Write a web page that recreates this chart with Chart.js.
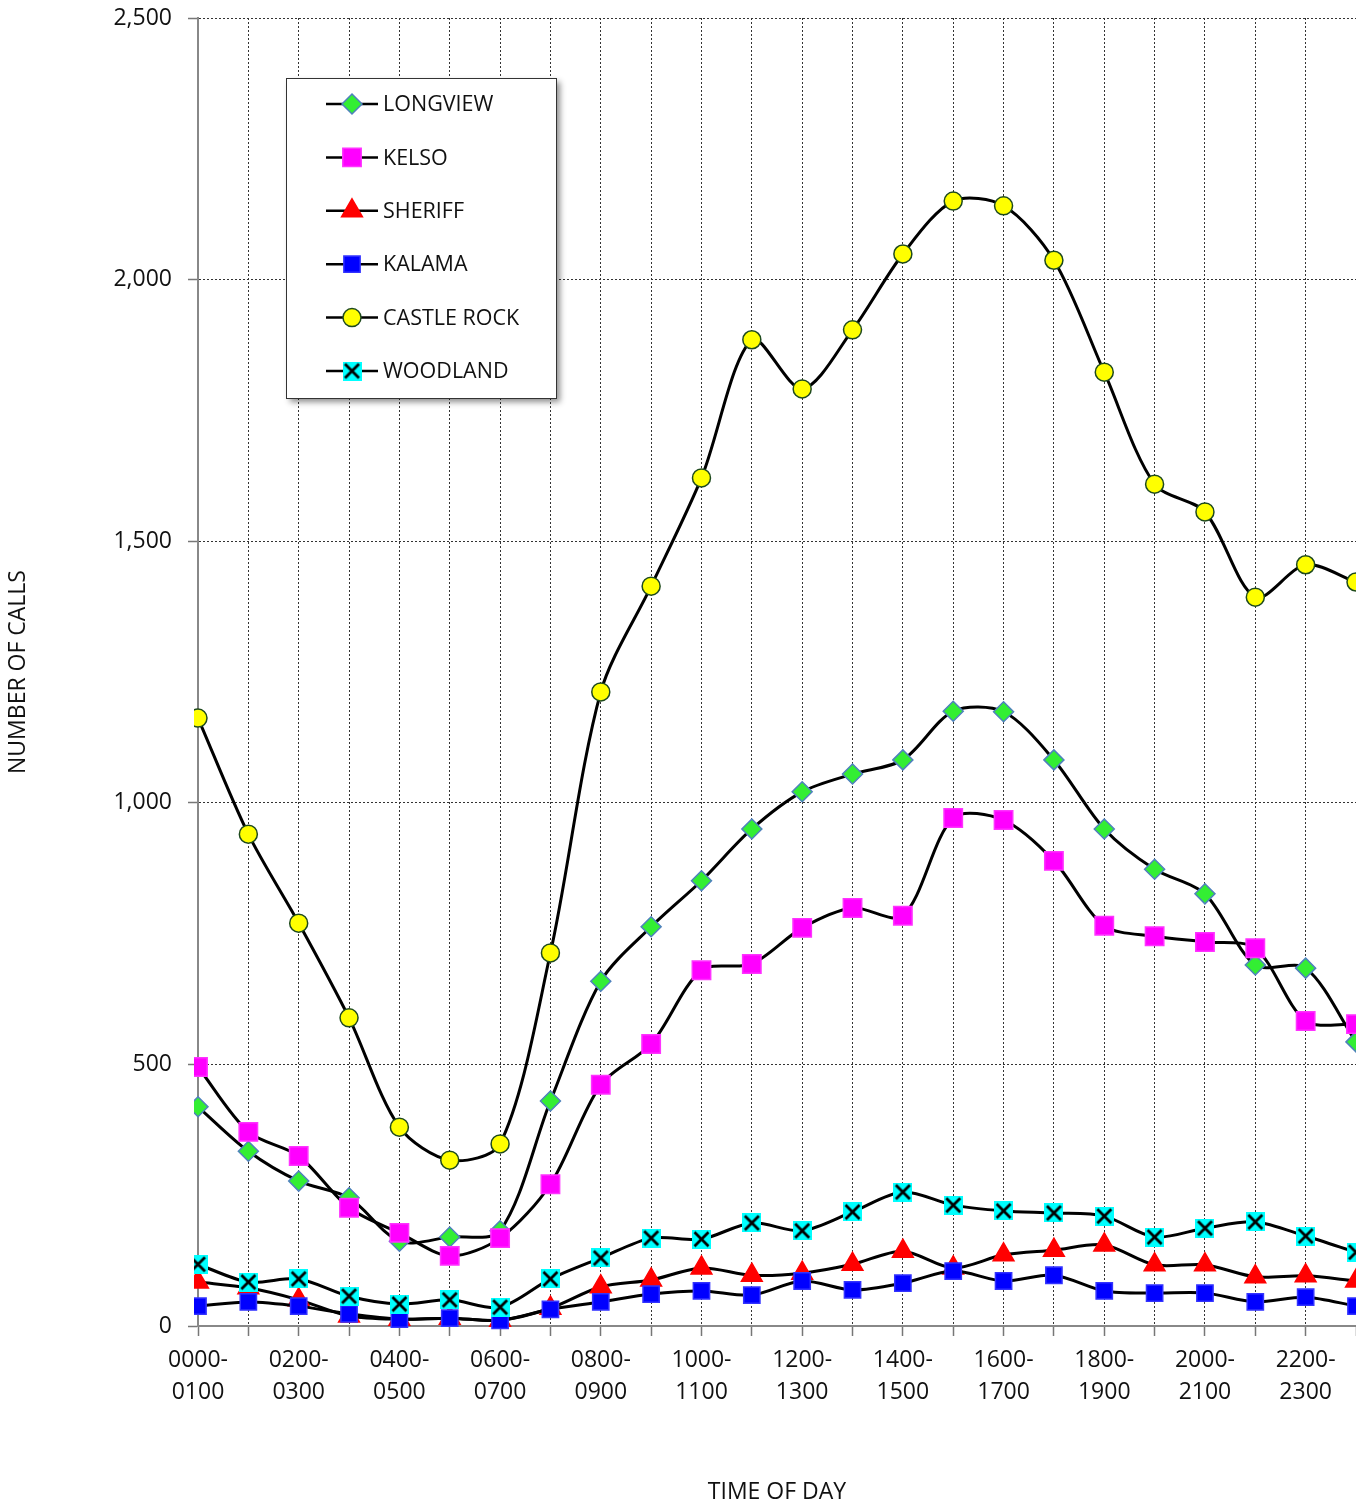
<!DOCTYPE html>
<html>
<head>
<meta charset="utf-8">
<title>Number of calls by time of day</title>
<script src="https://cdn.jsdelivr.net/npm/chart.js@4.4.1/dist/chart.umd.min.js"></script>
<style>
  html, body { margin: 0; padding: 0; background: #fff; }
  #wrap { width: 1356px; height: 1506px; }
</style>
</head>
<body>
<div id="wrap"><canvas id="callsChart" width="1356" height="1506"></canvas></div>
<script>
// hourly buckets (x axis)
const HOURS = ['0000-0100','0100-0200','0200-0300','0300-0400','0400-0500','0500-0600',
  '0600-0700','0700-0800','0800-0900','0900-1000','1000-1100','1100-1200',
  '1200-1300','1300-1400','1400-1500','1500-1600','1600-1700','1700-1800',
  '1800-1900','1900-2000','2000-2100','2100-2200','2200-2300','2300-2400'];

// calls per agency
const LONGVIEW    = [419, 334, 277, 245, 162, 170, 182, 430, 659, 763, 851, 950, 1021, 1055, 1082, 1175, 1174, 1082, 950, 873, 826, 690, 684, 543];
const KELSO       = [495, 371, 325, 226, 178, 134, 168, 271, 461, 539, 680, 692, 761, 799, 784, 971, 967, 889, 765, 745, 734, 722, 583, 577];
const SHERIFF     = [84, 73, 50, 19, 13, 15, 11, 34, 75, 88, 111, 97, 101, 118, 143, 111, 136, 145, 155, 117, 117, 94, 96, 86];
const KALAMA      = [38, 46, 38, 23, 13, 15, 11, 32, 46, 61, 67, 59, 86, 69, 82, 105, 86, 97, 67, 63, 63, 46, 55, 38];
const CASTLE_ROCK = [1162, 940, 770, 589, 380, 317, 348, 713, 1212, 1414, 1621, 1885, 1791, 1904, 2049, 2150, 2141, 2037, 1823, 1609, 1556, 1393, 1455, 1422];
const WOODLAND    = [118, 84, 90, 57, 42, 50, 36, 90, 130, 168, 166, 197, 182, 218, 256, 231, 220, 216, 210, 170, 187, 199, 172, 141];

const Y_TICKS = [0, 500, 1000, 1500, 2000, 2500];

const FONT = "'Open Sans', 'Liberation Sans', sans-serif";

// cyan box with a black cross, used as woodland marker
function crossBox(size){
  const c = document.createElement('canvas');
  c.width = size; c.height = size;
  const g = c.getContext('2d');
  g.fillStyle = '#00ffff';
  g.fillRect(0, 0, size, size);
  g.strokeStyle = '#000';
  g.lineWidth = 2.8;
  g.beginPath();
  g.moveTo(2.5, 2.5); g.lineTo(size - 2.5, size - 2.5);
  g.moveTo(size - 2.5, 2.5); g.lineTo(2.5, size - 2.5);
  g.stroke();
  return c;
}

function series(label, data, style, fill, border, radius, order){
  return {
    label, data, order,
    borderColor: '#000', borderWidth: 3, tension: 0.3,
    pointStyle: style, pointRadius: radius, pointHoverRadius: radius,
    pointBackgroundColor: fill, pointBorderColor: border, pointBorderWidth: 1.5,
    clip: 4
  };
}

// legend box drawn inside the plot area
const boxLegend = {
  id: 'boxLegend',
  afterDatasetsDraw(chart){
    const ctx = chart.ctx;
    const a = chart.chartArea;
    const x = a.left + 88, y = a.top + 60, w = 270, h = 320;
    ctx.save();
    ctx.shadowColor = 'rgba(0,0,0,0.45)';
    ctx.shadowBlur = 6; ctx.shadowOffsetX = 4; ctx.shadowOffsetY = 4;
    ctx.fillStyle = '#fff';
    ctx.fillRect(x, y, w, h);
    ctx.restore();
    ctx.save();
    ctx.strokeStyle = '#333'; ctx.lineWidth = 1;
    ctx.strokeRect(x + 0.5, y + 0.5, w, h);
    ctx.font = '21.5px ' + FONT;
    ctx.textBaseline = 'middle';
    chart.data.datasets.forEach((ds, i) => {
      const cy = y + 26 + i * 53.4;
      ctx.strokeStyle = '#000'; ctx.lineWidth = 2.5;
      ctx.beginPath(); ctx.moveTo(x + 40, cy); ctx.lineTo(x + 92, cy); ctx.stroke();
      ctx.fillStyle = ds.pointBackgroundColor;
      ctx.strokeStyle = ds.pointBorderColor;
      ctx.lineWidth = ds.pointBorderWidth;
      Chart.helpers.drawPoint(ctx, { pointStyle: ds.pointStyle, radius: ds.pointRadius, borderWidth: ds.pointBorderWidth, rotation: 0 }, x + 66, cy);
      ctx.fillStyle = '#111';
      ctx.fillText(ds.label, x + 97, cy + 1);
    });
    ctx.restore();
  }
};

const ctx = document.getElementById('callsChart').getContext('2d');
new Chart(ctx, {
  type: 'line',
  data: {
    labels: HOURS,
    datasets: [
      series('LONGVIEW', LONGVIEW, 'rectRot', '#33ee33', '#4f81bd', 10, 5),
      series('KELSO', KELSO, 'rect', '#ff00ff', '#ff33ff', 13, 4),
      series('SHERIFF', SHERIFF, 'triangle', '#ff0000', '#ff0000', 12, 3),
      series('KALAMA', KALAMA, 'rect', '#0000ff', '#3333ff', 11.5, 2),
      series('CASTLE ROCK', CASTLE_ROCK, 'circle', '#ffff00', '#1e4a1e', 9, 1),
      series('WOODLAND', WOODLAND, crossBox(19), '#00ffff', '#000', 9.5, 0)
    ]
  },
  options: {
    responsive: false,
    animation: false,
    layout: { autoPadding: false, padding: { top: 18, right: 0, bottom: 0, left: 0 } },
    plugins: { legend: { display: false }, tooltip: { enabled: false } },
    scales: {
      x: {
        offset: false,
        afterFit: s => { s.height = 180; s.paddingLeft = 0; s.paddingRight = 0; },
        grid: { color: '#333', lineWidth: 1, tickLength: 10, tickColor: '#777', tickWidth: 1.5 },
        border: { display: true, color: '#888', width: 2, dash: [2, 2] },
        ticks: {
          autoSkip: false, maxRotation: 0, padding: 8, color: '#111',
          font: { family: FONT, size: 23, lineHeight: 1.4 },
          callback: (v, i) => i % 2 === 0 ? [HOURS[i].slice(0, 5), HOURS[i].slice(5)] : ''
        },
        title: {
          display: true, text: 'TIME OF DAY', color: '#111',
          font: { family: FONT, size: 23 }, padding: { top: 0, bottom: 0 }
        }
      },
      y: {
        min: 0, max: 2500,
        afterFit: s => { s.width = 198; s.paddingTop = 0; s.paddingBottom = 0; },
        afterBuildTicks: s => { s.ticks = Y_TICKS.map(v => ({ value: v })); },
        grid: { color: '#333', lineWidth: 1, tickLength: 10, tickColor: '#777', tickWidth: 1.5 },
        border: { display: true, color: '#888', width: 2, dash: [2, 2] },
        ticks: {
          padding: 16, color: '#111',
          font: { family: FONT, size: 23 },
          callback: v => v.toLocaleString('en-US')
        },
        title: {
          display: true, text: 'NUMBER OF CALLS', color: '#111',
          font: { family: FONT, size: 23 }, padding: { top: 5, bottom: 0 }
        }
      }
    }
  },
  plugins: [boxLegend]
});
</script>
</body>
</html>
